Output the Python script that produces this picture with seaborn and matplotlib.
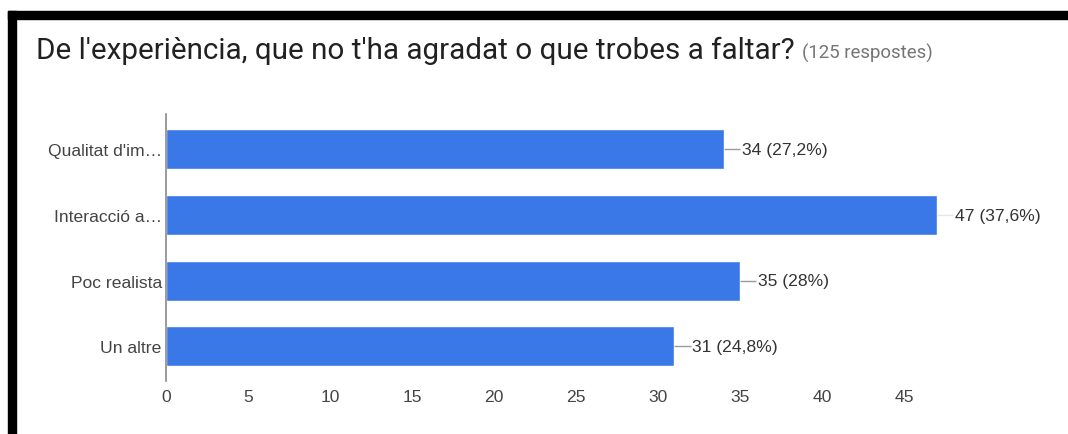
import matplotlib
matplotlib.use("Agg")
import matplotlib.pyplot as plt
from matplotlib.patches import Rectangle
import seaborn as sns
import pandas as pd

# Survey answers: "what didn't you like / what was missing?"
categories = ["Qualitat d'im…", "Interacció a…", "Poc realista", "Un altre"]
counts = [34, 47, 35, 31]
total_responses = 125
x_ticks = [0, 5, 10, 15, 20, 25, 30, 35, 40, 45]

title = "De l'experiència, que no t'ha agradat o que trobes a faltar?"
subtitle = f"({total_responses} respostes)"

bar_color = "#3b78e7"
text_color = "#444444"

sns.set_theme(style="white")
plt.rcParams["font.family"] = ["Liberation Sans", "DejaVu Sans"]

df = pd.DataFrame({"answer": categories, "count": counts})

W, H = 1068, 435
fig = plt.figure(figsize=(W / 100, H / 100), dpi=100)
ax = fig.add_axes([166 / W, 53 / H, (986 - 166) / W, 267 / H])

sns.barplot(data=df, y="answer", x="count", orient="h", color=bar_color,
            saturation=1, width=0.61, ax=ax)

ax.set_xlim(0, 50)
ax.set_ylim(3.53, -0.54)
ax.set_xticks(x_ticks)
ax.set_xlabel("")
ax.set_ylabel("")
ax.tick_params(axis="both", length=0, labelsize=12.6, labelcolor=text_color)
ax.tick_params(axis="y", pad=3)
ax.tick_params(axis="x", pad=6)
for side in ("top", "right", "bottom"):
    ax.spines[side].set_visible(False)
ax.spines["left"].set_color("#8a8a8a")
ax.spines["left"].set_linewidth(1.2)

# value labels with short leader lines
for i, v in enumerate(counts):
    pct = v / total_responses * 100
    pct_txt = f"{pct:.1f}".rstrip("0").rstrip(".").replace(".", ",")
    lead_col = "#e6e6e6" if v == max(counts) else "#9a9a9a"
    ax.plot([v, v + 1.0], [i, i], color=lead_col, lw=1.0, solid_capstyle="butt")
    ax.text(v + 1.1, i, f"{v} ({pct_txt}%)", va="center", ha="left",
            fontsize=12.6, color="#333333")

# title and response count
fig.text(36 / W, 1 - 59 / H, title, fontsize=21.3, color="#212121",
         family="Roboto", va="baseline", ha="left")
fig.text(802 / W, 1 - 59 / H, subtitle, fontsize=13.4, color="#757575",
         family="Roboto", va="baseline", ha="left")

# dark frame along top and left edges
fig.patches.append(Rectangle((8 / W, 1 - 20 / H), (W - 8) / W, 8 / H,
                             transform=fig.transFigure, color="black", zorder=5))
fig.patches.append(Rectangle((8 / W, 0), 8 / W, 1 - 12 / H,
                             transform=fig.transFigure, color="black", zorder=5))

fig.savefig("out.png", dpi=100, facecolor="white")
